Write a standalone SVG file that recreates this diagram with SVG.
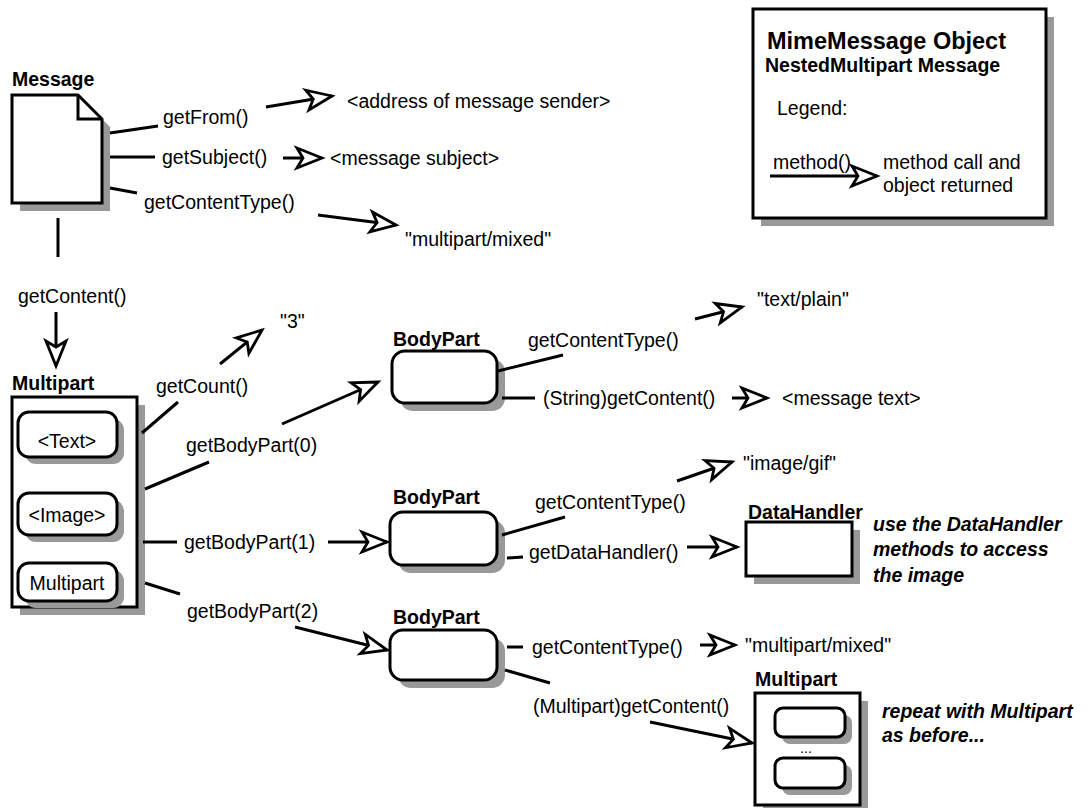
<svg xmlns="http://www.w3.org/2000/svg" width="1091" height="808" viewBox="0 0 1091 808">
<style>
text{font-family:"Liberation Sans",Arial,sans-serif;font-size:19.5px;fill:#000}
.b{font-weight:bold}
.bi{font-weight:bold;font-style:italic}
.shape{fill:#fff;stroke:#000;stroke-width:3}
.sh{fill:#999;stroke:none}
.ln{stroke:#000;stroke-width:3;fill:none}
.ar{stroke:#000;stroke-width:3;fill:none;marker-end:url(#head)}
.c{text-anchor:middle}
</style>
<defs>
<marker id="head" markerUnits="userSpaceOnUse" markerWidth="34" markerHeight="28" viewBox="-30 -14 34 28" refX="0" refY="0" orient="auto" overflow="visible">
<path d="M0,0 L-25,-10 L-19,0 L-25,10 Z" fill="#fff" stroke="#000" stroke-width="2.8" stroke-linejoin="miter"/>
</marker>
</defs>
<rect width="1091" height="808" fill="#fff"/>

<g id="legend">
<rect class="sh" x="761" y="17" width="293" height="209"/>
<rect class="shape" x="753" y="9" width="293" height="209"/>
<text class="b" x="767" y="49" style="font-size:23.5px">MimeMessage Object</text>
<text class="b" x="765" y="72">NestedMultipart Message</text>
<text x="777" y="115">Legend:</text>
<text x="773" y="169">method()</text>
<line class="ar" x1="770" y1="176" x2="877" y2="176"/>
<text x="883" y="169">method call and</text>
<text x="883" y="192">object returned</text>
</g>

<g id="message">
<text class="b" x="12" y="86">Message</text>
<path class="sh" d="M20,103 H86 L110,127 V211 H20 Z"/>
<path class="shape" d="M12,95 H78 L102,119 V203 H12 Z"/>
<path class="ln" d="M78,95 V119 H102"/>
</g>

<g id="multipart">
<text class="b" x="12" y="390">Multipart</text>
<rect class="sh" x="20" y="405" width="125" height="210"/>
<rect class="shape" x="12" y="397" width="125" height="210"/>
<rect class="sh" x="25" y="419" width="99" height="45" rx="11"/>
<rect class="shape" x="18" y="412" width="99" height="45" rx="11"/>
<text class="c" x="67" y="448">&lt;Text&gt;</text>
<rect class="sh" x="25" y="500" width="99" height="42" rx="11"/>
<rect class="shape" x="18" y="493" width="99" height="42" rx="11"/>
<text class="c" x="67" y="522">&lt;Image&gt;</text>
<rect class="sh" x="25" y="570" width="99" height="38" rx="11"/>
<rect class="shape" x="18" y="563" width="99" height="38" rx="11"/>
<text class="c" x="67" y="590">Multipart</text>
</g>

<g id="bodypart0">
<text class="b" x="393" y="346">BodyPart</text>
<rect class="sh" x="400" y="359" width="105" height="52" rx="13"/>
<rect class="shape" x="392" y="351" width="105" height="52" rx="13"/>
</g>

<g id="bodypart1">
<text class="b" x="393" y="504">BodyPart</text>
<rect class="sh" x="398" y="520" width="107" height="53" rx="13"/>
<rect class="shape" x="390" y="512" width="107" height="53" rx="13"/>
</g>

<g id="bodypart2">
<text class="b" x="393" y="624">BodyPart</text>
<rect class="sh" x="398" y="638" width="107" height="50" rx="13"/>
<rect class="shape" x="390" y="630" width="107" height="50" rx="13"/>
</g>

<g id="datahandler">
<text class="b" x="748" y="519">DataHandler</text>
<rect class="sh" x="754" y="530" width="106" height="54"/>
<rect class="shape" x="746" y="522" width="106" height="54"/>
<text class="bi" x="873" y="531">use the DataHandler</text>
<text class="bi" x="873" y="556">methods to access</text>
<text class="bi" x="873" y="582">the image</text>
</g>

<g id="multipart2">
<text class="b" x="755" y="686">Multipart</text>
<rect class="sh" x="763" y="701" width="105" height="112"/>
<rect class="shape" x="755" y="693" width="105" height="112"/>
<rect class="sh" x="782" y="715" width="70" height="29" rx="8"/>
<rect class="shape" x="775" y="708" width="70" height="29" rx="8"/>
<text class="c" x="806" y="753" style="font-size:14px">...</text>
<rect class="sh" x="782" y="765" width="70" height="30" rx="8"/>
<rect class="shape" x="775" y="758" width="70" height="30" rx="8"/>
<text class="bi" x="882" y="718">repeat with Multipart</text>
<text class="bi" x="882" y="742">as before...</text>
</g>

<g id="connectors">
<line class="ln" x1="110" y1="133" x2="158" y2="126"/>
<line class="ar" x1="266" y1="107" x2="332" y2="96"/>
<line class="ln" x1="110" y1="157" x2="155" y2="157"/>
<line class="ar" x1="283" y1="158" x2="322" y2="158"/>
<line class="ln" x1="110" y1="188" x2="137" y2="193"/>
<line class="ar" x1="318" y1="215" x2="396" y2="225"/>
<line class="ln" x1="58" y1="218" x2="58" y2="257"/>
<line class="ar" x1="56" y1="312" x2="56" y2="366"/>
<line class="ln" x1="142" y1="433" x2="178" y2="402"/>
<line class="ar" x1="220" y1="364" x2="262" y2="330"/>
<line class="ln" x1="145" y1="489" x2="209" y2="462"/>
<line class="ar" x1="282" y1="424" x2="378" y2="382"/>
<line class="ln" x1="143" y1="542" x2="177" y2="542"/>
<line class="ar" x1="328" y1="542" x2="387" y2="542"/>
<line class="ln" x1="145" y1="583" x2="180" y2="594"/>
<line class="ar" x1="295" y1="627" x2="387" y2="650"/>
<line class="ln" x1="498" y1="371" x2="563" y2="355"/>
<line class="ar" x1="695" y1="319" x2="742" y2="307"/>
<line class="ln" x1="502" y1="398" x2="535" y2="398"/>
<line class="ar" x1="732" y1="398" x2="767" y2="398"/>
<line class="ln" x1="502" y1="535" x2="565" y2="517"/>
<line class="ar" x1="677" y1="481" x2="732" y2="462"/>
<line class="ln" x1="507" y1="558" x2="523" y2="557"/>
<line class="ar" x1="687" y1="547" x2="737" y2="547"/>
<line class="ln" x1="507" y1="647" x2="523" y2="647"/>
<line class="ar" x1="700" y1="645" x2="735" y2="645"/>
<line class="ln" x1="505" y1="670" x2="550" y2="683"/>
<line class="ar" x1="650" y1="722" x2="752" y2="743"/>
</g>

<g id="labels">
<text x="163" y="124">getFrom()</text>
<text x="347" y="108">&lt;address of message sender&gt;</text>
<text x="162" y="164">getSubject()</text>
<text x="330" y="165">&lt;message subject&gt;</text>
<text x="144" y="209">getContentType()</text>
<text x="405" y="246">"multipart/mixed"</text>
<text x="18" y="303">getContent()</text>
<text x="156" y="393">getCount()</text>
<text x="280" y="328">"3"</text>
<text x="186" y="452">getBodyPart(0)</text>
<text x="528" y="347">getContentType()</text>
<text x="757" y="306">"text/plain"</text>
<text x="543" y="405">(String)getContent()</text>
<text x="782" y="405">&lt;message text&gt;</text>
<text x="184" y="549">getBodyPart(1)</text>
<text x="535" y="509">getContentType()</text>
<text x="743" y="470">"image/gif"</text>
<text x="529" y="559">getDataHandler()</text>
<text x="187" y="618">getBodyPart(2)</text>
<text x="532" y="654">getContentType()</text>
<text x="745" y="652">"multipart/mixed"</text>
<text x="533" y="713">(Multipart)getContent()</text>
</g>
</svg>
